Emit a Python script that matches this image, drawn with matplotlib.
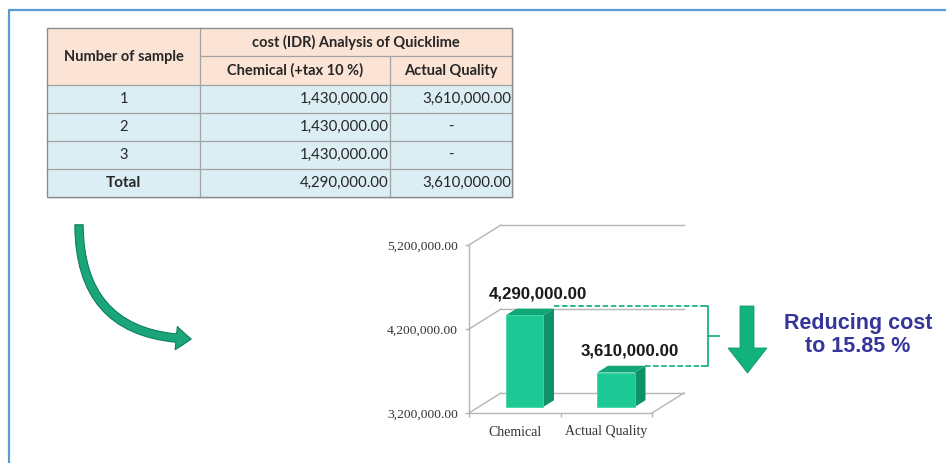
import matplotlib
matplotlib.use("Agg")
import matplotlib.pyplot as plt
from matplotlib.patches import Rectangle, Polygon, FancyArrowPatch, ArrowStyle
from matplotlib.ticker import FixedLocator, FuncFormatter

# ---------------- data ----------------
table_title = "cost (IDR) Analysis of Quicklime"
first_col_header = "Number of sample"
sub_headers = ["Chemical (+tax 10 %)", "Actual Quality"]
row_labels = ["1", "2", "3", "Total"]
chemical_costs = [1430000, 1430000, 1430000, 4290000]
actual_costs = [3610000, None, None, 3610000]

categories = ["Chemical", "Actual Quality"]
bar_values = [4290000, 3610000]
y_ticks = [3200000, 4200000, 5200000]
reduction_lines = ["Reducing cost", "to 15.85 %"]

# ---------------- figure ----------------
W, H = 946, 463
fig = plt.figure(figsize=(W / 100, H / 100), dpi=100)
fig.patch.set_facecolor("white")

canvas = fig.add_axes([0, 0, 1, 1])
canvas.set_xlim(0, W)
canvas.set_ylim(H, 0)
canvas.axis("off")

# blue frame
frame_c = "#5B9BD5"
canvas.plot([8.5, 8.5], [9, H], color=frame_c, lw=1.6, solid_capstyle="butt")
canvas.plot([8, W], [9.5, 9.5], color=frame_c, lw=1.6, solid_capstyle="butt")

# ---------------- table ----------------
tfont = ["Lato", "DejaVu Sans"]
xe = [47, 200, 390, 512]
ye = [28, 56, 85, 113, 141, 169, 197]
head_fill = "#FBE4D5"
body_fill = "#DAEEF3"
grid_c = "#A3A3A3"

canvas.add_patch(Rectangle((xe[0] + 2, ye[0] + 2), xe[3] - xe[0], ye[-1] - ye[0],
                           facecolor="#E6E6E6", edgecolor="none", zorder=1))
canvas.add_patch(Rectangle((xe[0], ye[0]), xe[3] - xe[0], ye[2] - ye[0],
                           facecolor=head_fill, edgecolor="none", zorder=2))
canvas.add_patch(Rectangle((xe[0], ye[2]), xe[3] - xe[0], ye[-1] - ye[2],
                           facecolor=body_fill, edgecolor="none", zorder=2))
for y in ye[2:-1]:
    canvas.plot([xe[0], xe[3]], [y, y], color=grid_c, lw=0.9, zorder=3)
canvas.plot([xe[1], xe[3]], [ye[1], ye[1]], color=grid_c, lw=0.9, zorder=3)
canvas.plot([xe[1], xe[1]], [ye[0], ye[-1]], color=grid_c, lw=0.9, zorder=3)
canvas.plot([xe[2], xe[2]], [ye[1], ye[-1]], color=grid_c, lw=0.9, zorder=3)
canvas.add_patch(Rectangle((xe[0], ye[0]), xe[3] - xe[0], ye[-1] - ye[0],
                           facecolor="none", edgecolor="#8C8C8C", lw=1.0, zorder=4))

tc = "#262626"
canvas.text((xe[0] + xe[1]) / 2, (ye[0] + ye[2]) / 2, first_col_header,
            ha="center", va="center", fontsize=10.5, fontweight="bold", color=tc, family=tfont, zorder=5)
canvas.text((xe[1] + xe[3]) / 2, (ye[0] + ye[1]) / 2, table_title,
            ha="center", va="center", fontsize=10.5, fontweight="bold", color=tc, family=tfont, zorder=5)
for j, h in enumerate(sub_headers):
    canvas.text((xe[j + 1] + xe[j + 2]) / 2, (ye[1] + ye[2]) / 2, h,
                ha="center", va="center", fontsize=10.5, fontweight="bold", color=tc, family=tfont, zorder=5)

for i, lab in enumerate(row_labels):
    yc = (ye[i + 2] + ye[i + 3]) / 2
    bold = lab == "Total"
    canvas.text((xe[0] + xe[1]) / 2, yc, lab, ha="center", va="center",
                fontsize=11 if bold else 10.5, fontweight="bold" if bold else "normal",
                color=tc, family=tfont, zorder=5)
    canvas.text(xe[2] - 1, yc, f"{chemical_costs[i]:,.2f}", ha="right", va="center",
                fontsize=10.8, color=tc, family=tfont, zorder=5)
    a = actual_costs[i]
    if a is None:
        canvas.text((xe[2] + xe[3]) / 2, yc, "-", ha="center", va="center",
                    fontsize=10.8, color=tc, family=tfont, zorder=5)
    else:
        canvas.text(xe[3] - 1, yc, f"{a:,.2f}", ha="right", va="center",
                    fontsize=10.8, color=tc, family=tfont, zorder=5)

# ---------------- curved arrow ----------------
curve = FancyArrowPatch((79, 222), (194, 339), connectionstyle="arc3,rad=0.5",
                        arrowstyle=ArrowStyle.Simple(head_length=0.9, head_width=1.4, tail_width=0.5),
                        mutation_scale=12, facecolor="#1AA67A", edgecolor="#0F7E5A", lw=0.8, zorder=5)
canvas.add_patch(curve)

# ---------------- bar chart ----------------
ax_l, ax_r, ax_b, ax_t = 469, 652, 413, 245
ax = fig.add_axes([ax_l / W, (H - ax_b) / H, (ax_r - ax_l) / W, (ax_b - ax_t) / H])
ax.set_facecolor("none")
ymin, ymax = y_ticks[0], y_ticks[-1]
ax.set_xlim(0, len(categories))
ax.set_ylim(ymin, ymax)

px_x = (ax_r - ax_l) / len(categories)
px_y = (ax_b - ax_t) / (ymax - ymin)
dX, dY = 32 / px_x, 20 / px_y
gray = "#B5B5B5"

for s in ["top", "right"]:
    ax.spines[s].set_visible(False)
for s in ["left", "bottom"]:
    ax.spines[s].set_color(gray)
    ax.spines[s].set_linewidth(1.0)

serif = ["Liberation Serif", "DejaVu Serif"]
ax.yaxis.set_major_locator(FixedLocator(y_ticks))
ax.yaxis.set_major_formatter(FuncFormatter(lambda v, p: f"{v:,.2f}"))
ax.tick_params(axis="y", length=3, width=1, color=gray, pad=5, labelsize=9.7, labelcolor="#333333")
for t in ax.get_yticklabels():
    t.set_family(serif)

ax.set_xticks(range(len(categories) + 1))
ax.set_xticklabels([])
ax.set_xticks([i + 0.5 for i in range(len(categories))], minor=True)
ax.set_xticklabels(categories, minor=True, family=serif, fontsize=10, color="#333333")
ax.tick_params(axis="x", which="major", length=3, width=1, color=gray)
ax.tick_params(axis="x", which="minor", length=0, pad=9)

for yv in y_ticks:
    ax.plot([0, dX], [yv, yv + dY], color=gray, lw=1.0, clip_on=False)
    ax.plot([dX, len(categories) + dX], [yv + dY, yv + dY], color=gray, lw=1.0, clip_on=False,
            zorder=1)
ax.plot([len(categories), len(categories) + dX], [ymin, ymin + dY], color=gray, lw=1.0, clip_on=False)

front_c, side_c, top_c = "#1CC894", "#0E9168", "#11A678"
bw = 0.41
offX, offY = 0.3 * dX, 0.3 * dY
bdX, bdY = 0.34 * dX, 0.34 * dY
xs = [i + 0.5 + offX for i in range(len(categories))]
bars = ax.bar(xs, [v - ymin for v in bar_values], bottom=ymin + offY, width=bw,
              color=front_c, edgecolor="#3ED6A6", lw=0.6, zorder=4, clip_on=False)
for x, v in zip(xs, bar_values):
    x0, x1 = x - bw / 2, x + bw / 2
    y0, y1 = ymin + offY, v + offY
    ax.add_patch(Polygon([(x1, y0), (x1, y1), (x1 + bdX, y1 + bdY), (x1 + bdX, y0 + bdY)],
                         closed=True, facecolor=side_c, edgecolor="none", zorder=3, clip_on=False))
    ax.add_patch(Polygon([(x0, y1), (x1, y1), (x1 + bdX, y1 + bdY), (x0 + bdX, y1 + bdY)],
                         closed=True, facecolor=top_c, edgecolor="none", zorder=3, clip_on=False))

for i, v in enumerate(bar_values):
    ax.annotate(f"{v:,.2f}", (i + 0.5, v), xytext=(17, 20), textcoords="offset points",
                ha="center", va="center", fontsize=12.2, fontweight="bold", color="#1A1A1A",
                family=["Liberation Sans", "DejaVu Sans"], annotation_clip=False, zorder=6)

green = "#19B47E"
tops = [v + offY + bdY for v in bar_values]
tops[0] += 3 / px_y
starts = [x + bw / 2 + bdX for x in xs]
bx = (708 - ax_l) / px_x
corner = 6 / px_x
for sx, ty in zip(starts, tops):
    ax.plot([sx, bx - corner], [ty, ty], color=green, lw=1.3, ls=(0, (3, 1.5)), clip_on=False, zorder=5)
ax.plot([bx - corner, bx, bx, bx - corner], [tops[0], tops[0], tops[1], tops[1]],
        color=green, lw=1.3, clip_on=False, zorder=5)
mid = (tops[0] + tops[1]) / 2
ax.plot([bx, bx + 11 / px_x], [mid, mid], color=green, lw=1.3, clip_on=False, zorder=5)

canvas.add_patch(Polygon([(740, 306), (754, 306), (754, 348), (767, 348), (747.5, 373),
                          (728, 348), (740, 348)], closed=True, facecolor="#12B27D",
                         edgecolor="#0E9A6C", lw=0.6, zorder=5))

for k, line in enumerate(reduction_lines):
    canvas.text(858, 323 + 24 * k, line, ha="center", va="center", fontsize=15.5,
                fontweight="bold", color="#35359A", family=["Liberation Sans", "DejaVu Sans"])

fig.savefig("out.png", dpi=100, facecolor="white")
